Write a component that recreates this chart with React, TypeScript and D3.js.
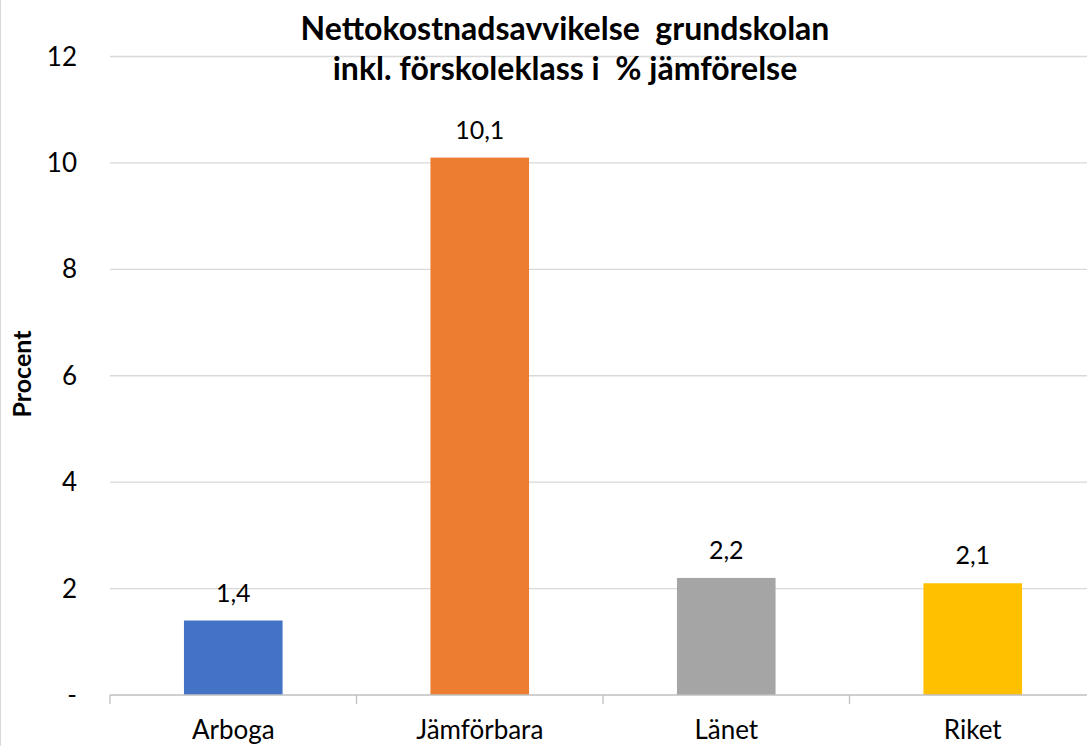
import React from "react";
import * as d3 from "d3";

const categories = ["Arboga", "Jämförbara", "Länet", "Riket"];
const values = [1.4, 10.1, 2.2, 2.1];
const colors = ["#4472C4", "#ED7D31", "#A5A5A5", "#FFC000"];
const yTicks = [0, 2, 4, 6, 8, 10, 12];
const titleLines = ["Nettokostnadsavvikelse  grundskolan", "inkl. förskoleklass i  % jämförelse"];
const yLabel = "Procent";

const W = 1087;
const H = 746;
const FONT = "Lato, 'Open Sans', sans-serif";

export default function App() {
  const x = d3.scaleBand<string>().domain(categories).range([110, 1096]).paddingInner(0.6).paddingOuter(0.3);
  const y = d3.scaleLinear().domain([0, 12]).range([695, 56.5]);
  const step = x.step();
  const x0 = 110;
  const fmt = (v: number) => (v === 0 ? "-" : String(v));
  const lab = (v: number) => v.toFixed(1).replace(".", ",");
  return (
    <svg width={W} height={H} style={{ position: "absolute", left: 0, top: 0, background: "#fff" }} fontFamily={FONT}>
      <line x1={0.5} x2={0.5} y1={0} y2={H} stroke="#d9d9d9" />
      {yTicks.filter((t) => t > 0).map((t) => (
        <line key={t} x1={x0} x2={W} y1={y(t)} y2={y(t)} stroke="#d9d9d9" strokeWidth={1.3} />
      ))}
      {yTicks.map((t) => (
        <text key={"l" + t} x={77} y={y(t)} dy="0.35em" textAnchor="end" fontSize={26} fill="#000">
          {fmt(t)}
        </text>
      ))}
      {categories.map((c, i) => (
        <g key={c}>
          <rect x={x(c)} y={y(values[i])} width={x.bandwidth()} height={y(0) - y(values[i])} fill={colors[i]} />
          <text x={(x(c) as number) + x.bandwidth() / 2} y={y(values[i]) - 19} textAnchor="middle" fontSize={25} fill="#000">
            {lab(values[i])}
          </text>
          <text x={(x(c) as number) + x.bandwidth() / 2} y={739} textAnchor="middle" fontSize={26} fill="#000">
            {c}
          </text>
        </g>
      ))}
      <line x1={x0} x2={W} y1={y(0)} y2={y(0)} stroke="#bfbfbf" strokeWidth={1.3} />
      {d3.range(categories.length + 1).map((i) => (
        <line key={"t" + i} x1={x0 + i * step} x2={x0 + i * step} y1={y(0)} y2={y(0) + 9} stroke="#bfbfbf" strokeWidth={1.3} />
      ))}
      <text transform={`translate(31,374) rotate(-90)`} textAnchor="middle" fontSize={25} fontWeight="bold" fill="#000">
        {yLabel}
      </text>
      {titleLines.map((t, i) => (
        <text key={t} x={565} y={40 + i * 40} textAnchor="middle" fontSize={32} fontWeight="bold" fill="#000" style={{ whiteSpace: "pre" }}>
          {t}
        </text>
      ))}
    </svg>
  );
}
